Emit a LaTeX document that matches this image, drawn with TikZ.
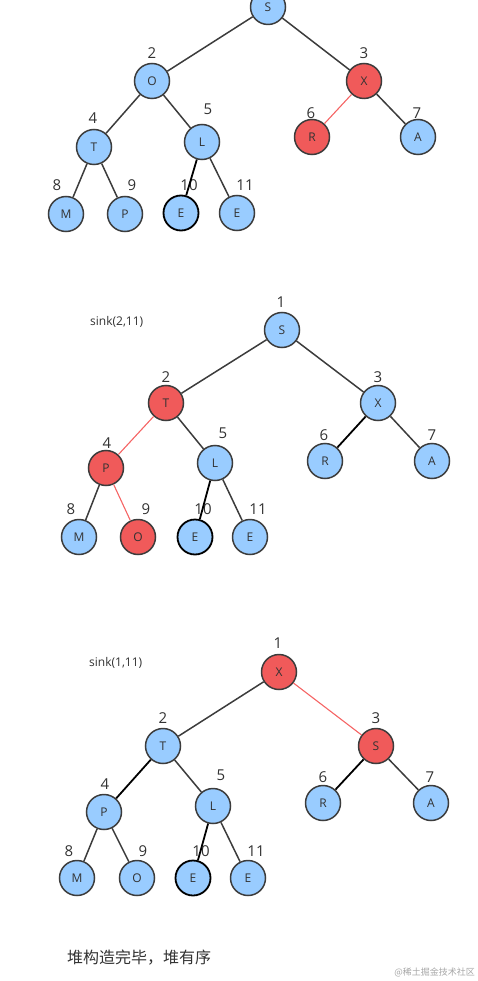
\documentclass[tikz,border=0pt]{standalone}
\usepackage{fontspec}
\setmainfont{Open Sans}
\newfontfamily\cjk{Noto Sans CJK SC}
\definecolor{nblue}{RGB}{153,204,255}
\definecolor{nred}{RGB}{240,90,90}
\definecolor{edgec}{RGB}{60,60,60}
\definecolor{redge}{RGB}{245,100,100}
\definecolor{txtc}{RGB}{50,50,50}
\tikzset{
  bn/.style={circle,draw=edgec,line width=1.5pt,fill=nblue,minimum size=35pt,inner sep=0pt,font=\fontsize{12}{13}\selectfont,text=txtc},
  rn/.style={bn,fill=nred},
  dn/.style={bn,draw=black,line width=1.8pt},
  num/.style={inner sep=0pt,font=\fontsize{15}{16}\selectfont,text=txtc},
  ed/.style={draw=edgec,line width=1.5pt},
  edk/.style={draw=black,line width=1.8pt},
  re/.style={draw=redge,line width=1.1pt},
  sinklabel/.style={inner sep=0pt,font=\fontsize{12}{14}\selectfont,text=txtc,anchor=west}
}
\begin{document}
\begin{tikzpicture}[x=1pt,y=-1pt]
\useasboundingbox (0,0) rectangle (478,981);
% ---------- panel 1
\node[bn] (a1) at (268,7) {S};
\node[bn] (a2) at (152,81) {O};
\node[rn] (a3) at (364,81) {X};
\node[bn] (a4) at (94,147) {T};
\node[bn] (a5) at (202,142) {L};
\node[rn] (a6) at (312,137) {R};
\node[bn] (a7) at (418,137) {A};
\node[bn] (a8) at (66,214) {M};
\node[bn] (a9) at (125,214) {P};
\node[dn] (a10) at (181,213) {E};
\node[bn] (a11) at (237,213) {E};
\node[num] (a2n) at (152,53) {2};
\node[num] (a3n) at (364,53) {3};
\node[num] (a4n) at (93,118) {4};
\node[num] (a5n) at (208,109) {5};
\node[num] (a6n) at (311,113) {6};
\node[num] (a7n) at (417,113) {7};
\node[num] (a8n) at (57,185) {8};
\node[num] (a9n) at (132,185) {9};
\node[num] (a10n) at (189,185) {10};
\node[num] (a11n) at (245,185) {11};
\draw[ed] (a1) -- (a2);
\draw[ed] (a1) -- (a3);
\draw[ed] (a2) -- (a4);
\draw[ed] (a2) -- (a5);
\draw[re] (a3) -- (a6);
\draw[ed] (a3) -- (a7);
\draw[ed] (a4) -- (a8);
\draw[ed] (a4) -- (a9);
\draw[edk] (a5) -- (a10);
\draw[ed] (a5) -- (a11);
% ---------- panel 2
\node[sinklabel] (s2) at (90,322) {sink(2,11)};
\node[bn] (b1) at (282,330) {S};
\node[rn] (b2) at (166,403) {T};
\node[bn] (b3) at (378,403) {X};
\node[rn] (b4) at (106,468) {P};
\node[bn] (b5) at (215,463) {L};
\node[bn] (b6) at (325,461) {R};
\node[bn] (b7) at (432,461) {A};
\node[bn] (b8) at (79,537) {M};
\node[rn] (b9) at (138,537) {O};
\node[dn] (b10) at (195,537) {E};
\node[bn] (b11) at (250,537) {E};
\node[num] (b1n) at (281,302) {1};
\node[num] (b2n) at (166,377) {2};
\node[num] (b3n) at (378,377) {3};
\node[num] (b4n) at (107,443) {4};
\node[num] (b5n) at (223,433) {5};
\node[num] (b6n) at (324,435) {6};
\node[num] (b7n) at (432,435) {7};
\node[num] (b8n) at (71,509) {8};
\node[num] (b9n) at (146,509) {9};
\node[num] (b10n) at (203,509) {10};
\node[num] (b11n) at (258,509) {11};
\draw[ed] (b1) -- (b2);
\draw[ed] (b1) -- (b3);
\draw[re] (b2) -- (b4);
\draw[ed] (b2) -- (b5);
\draw[edk] (b3) -- (b6);
\draw[ed] (b3) -- (b7);
\draw[ed] (b4) -- (b8);
\draw[re] (b4) -- (b9);
\draw[edk] (b5) -- (b10);
\draw[ed] (b5) -- (b11);
% ---------- panel 3
\node[sinklabel] (s3) at (89,663) {sink(1,11)};
\node[rn] (c1) at (279,672) {X};
\node[bn] (c2) at (163,746) {T};
\node[rn] (c3) at (376,746) {S};
\node[bn] (c4) at (104,812) {P};
\node[bn] (c5) at (213,806) {L};
\node[bn] (c6) at (323,803) {R};
\node[bn] (c7) at (431,803) {A};
\node[bn] (c8) at (77,878) {M};
\node[bn] (c9) at (137,878) {O};
\node[dn] (c10) at (193,878) {E};
\node[bn] (c11) at (248,878) {E};
\node[num] (c1n) at (278,643) {1};
\node[num] (c2n) at (163,718) {2};
\node[num] (c3n) at (376,718) {3};
\node[num] (c4n) at (105,784) {4};
\node[num] (c5n) at (221,775) {5};
\node[num] (c6n) at (323,777) {6};
\node[num] (c7n) at (430,777) {7};
\node[num] (c8n) at (69,851) {8};
\node[num] (c9n) at (143,851) {9};
\node[num] (c10n) at (201,851) {10};
\node[num] (c11n) at (256,851) {11};
\draw[ed] (c1) -- (c2);
\draw[re] (c1) -- (c3);
\draw[edk] (c2) -- (c4);
\draw[ed] (c2) -- (c5);
\draw[edk] (c3) -- (c6);
\draw[ed] (c3) -- (c7);
\draw[ed] (c4) -- (c8);
\draw[ed] (c4) -- (c9);
\draw[edk] (c5) -- (c10);
\draw[ed] (c5) -- (c11);
% ---------- captions
\node[inner sep=0pt,anchor=west,font=\cjk\fontsize{16}{18}\selectfont,text=txtc] (t1) at (67,958) {堆构造完毕，堆有序};
\node[inner sep=0pt,anchor=east,font=\cjk\fontsize{9}{10}\selectfont,text=black!35] (t2) at (475,972) {@稀土掘金技术社区};
\end{tikzpicture}
\end{document}
